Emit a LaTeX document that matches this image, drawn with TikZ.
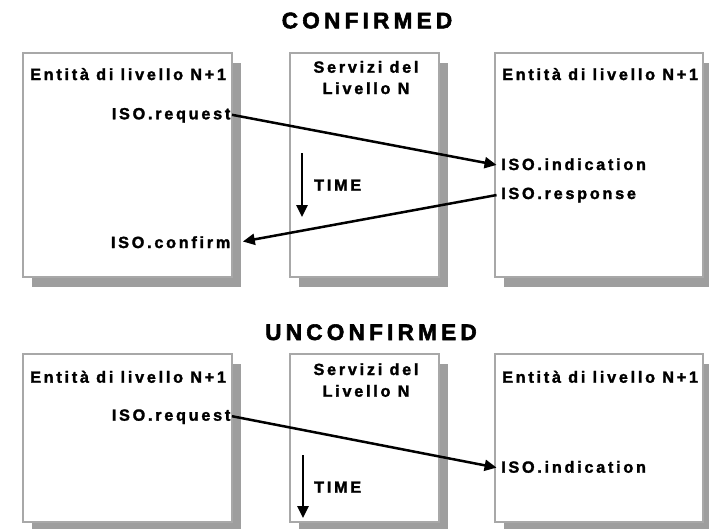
\documentclass[tikz,border=0pt]{standalone}
\usepackage{fontspec}
\setmainfont{Liberation Sans}
\newfontfamily\lblfont[LetterSpace=17, FakeBold=1.8]{Liberation Sans Bold}
\newfontfamily\ttlfont[LetterSpace=19, FakeBold=2.5]{Liberation Sans Bold}
\usetikzlibrary{arrows.meta,shadows}
\definecolor{boxline}{HTML}{A8A8A8}
\definecolor{shade}{HTML}{9E9E9E}
\begin{document}
\begin{tikzpicture}[x=1pt,y=-1pt,
  box/.style={draw=boxline, line width=2pt, fill=white, rectangle, inner sep=0pt,
    drop shadow={shadow xshift=9pt, shadow yshift=-10pt, fill=shade, opacity=1}},
  lbl/.style={font=\lblfont\fontsize{16.2}{19}\selectfont, inner sep=1.5pt, text height=12pt, text depth=3pt},
  ttl/.style={font=\ttlfont\fontsize{22.5}{26}\selectfont, inner sep=0pt},
  msg/.style={line width=2.5pt, -{Triangle[length=12pt,width=11pt]}},
]
\useasboundingbox (0,0) rectangle (709,528);

% ---------- CONFIRMED ----------
\node[ttl, anchor=base] (t1) at (367,28.3) {CONFIRMED};
\node[box, minimum width=209pt, minimum height=224pt] (L1) at (127.5,165) {};
\node[box, minimum width=149pt, minimum height=224pt] (M1) at (364.5,165) {};
\node[box, minimum width=208pt, minimum height=224pt] (R1) at (599,165) {};

\node[lbl, anchor=base west] (eL1) at (28.5,80) {Entità di livello N+1};
\node[lbl, anchor=base west] (eR1) at (500.5,80) {Entità di livello N+1};
\node[lbl, anchor=base] (s1a) at (366,72.7) {Servizi del};
\node[lbl, anchor=base] (s1b) at (366,94) {Livello N};

\node[lbl, anchor=base east] (req1) at (232,119.3) {ISO.request};
\node[lbl, anchor=base east] (conf1) at (232,248) {ISO.confirm};
\node[lbl, anchor=base west] (ind1) at (499.5,170) {ISO.indication};
\node[lbl, anchor=base west] (resp1) at (499.5,199) {ISO.response};
\node[lbl, anchor=base west] (time1) at (312.5,190.7) {TIME};

\coordinate (ta1) at (302,153);
\coordinate (tb1) at (302,217);
\draw[msg] (ta1) -- (tb1);
\draw[msg, shorten >=3pt] (req1.east) -- (ind1.west);
\draw[msg, shorten <=3pt, shorten >=11pt] (resp1.west) -- (conf1.east);

% ---------- UNCONFIRMED ----------
\node[ttl, anchor=base] (t2) at (371,340) {UNCONFIRMED};
\node[box, minimum width=209pt, minimum height=168pt] (L2) at (127.5,438) {};
\node[box, minimum width=149pt, minimum height=168pt] (M2) at (364.5,438) {};
\node[box, minimum width=208pt, minimum height=168pt] (R2) at (599,438) {};

\node[lbl, anchor=base west] (eL2) at (28.5,382.7) {Entità di livello N+1};
\node[lbl, anchor=base west] (eR2) at (500.5,382.7) {Entità di livello N+1};
\node[lbl, anchor=base] (s2a) at (366,375) {Servizi del};
\node[lbl, anchor=base] (s2b) at (366,396.7) {Livello N};

\node[lbl, anchor=base east] (req2) at (232,420.7) {ISO.request};
\node[lbl, anchor=base west] (ind2) at (499.5,472.7) {ISO.indication};
\node[lbl, anchor=base west] (time2) at (312.5,492.7) {TIME};

\coordinate (ta2) at (303,455);
\coordinate (tb2) at (303,518);
\draw[msg] (ta2) -- (tb2);
\draw[msg, shorten >=3pt] (req2.east) -- (ind2.west);
\end{tikzpicture}
\end{document}
